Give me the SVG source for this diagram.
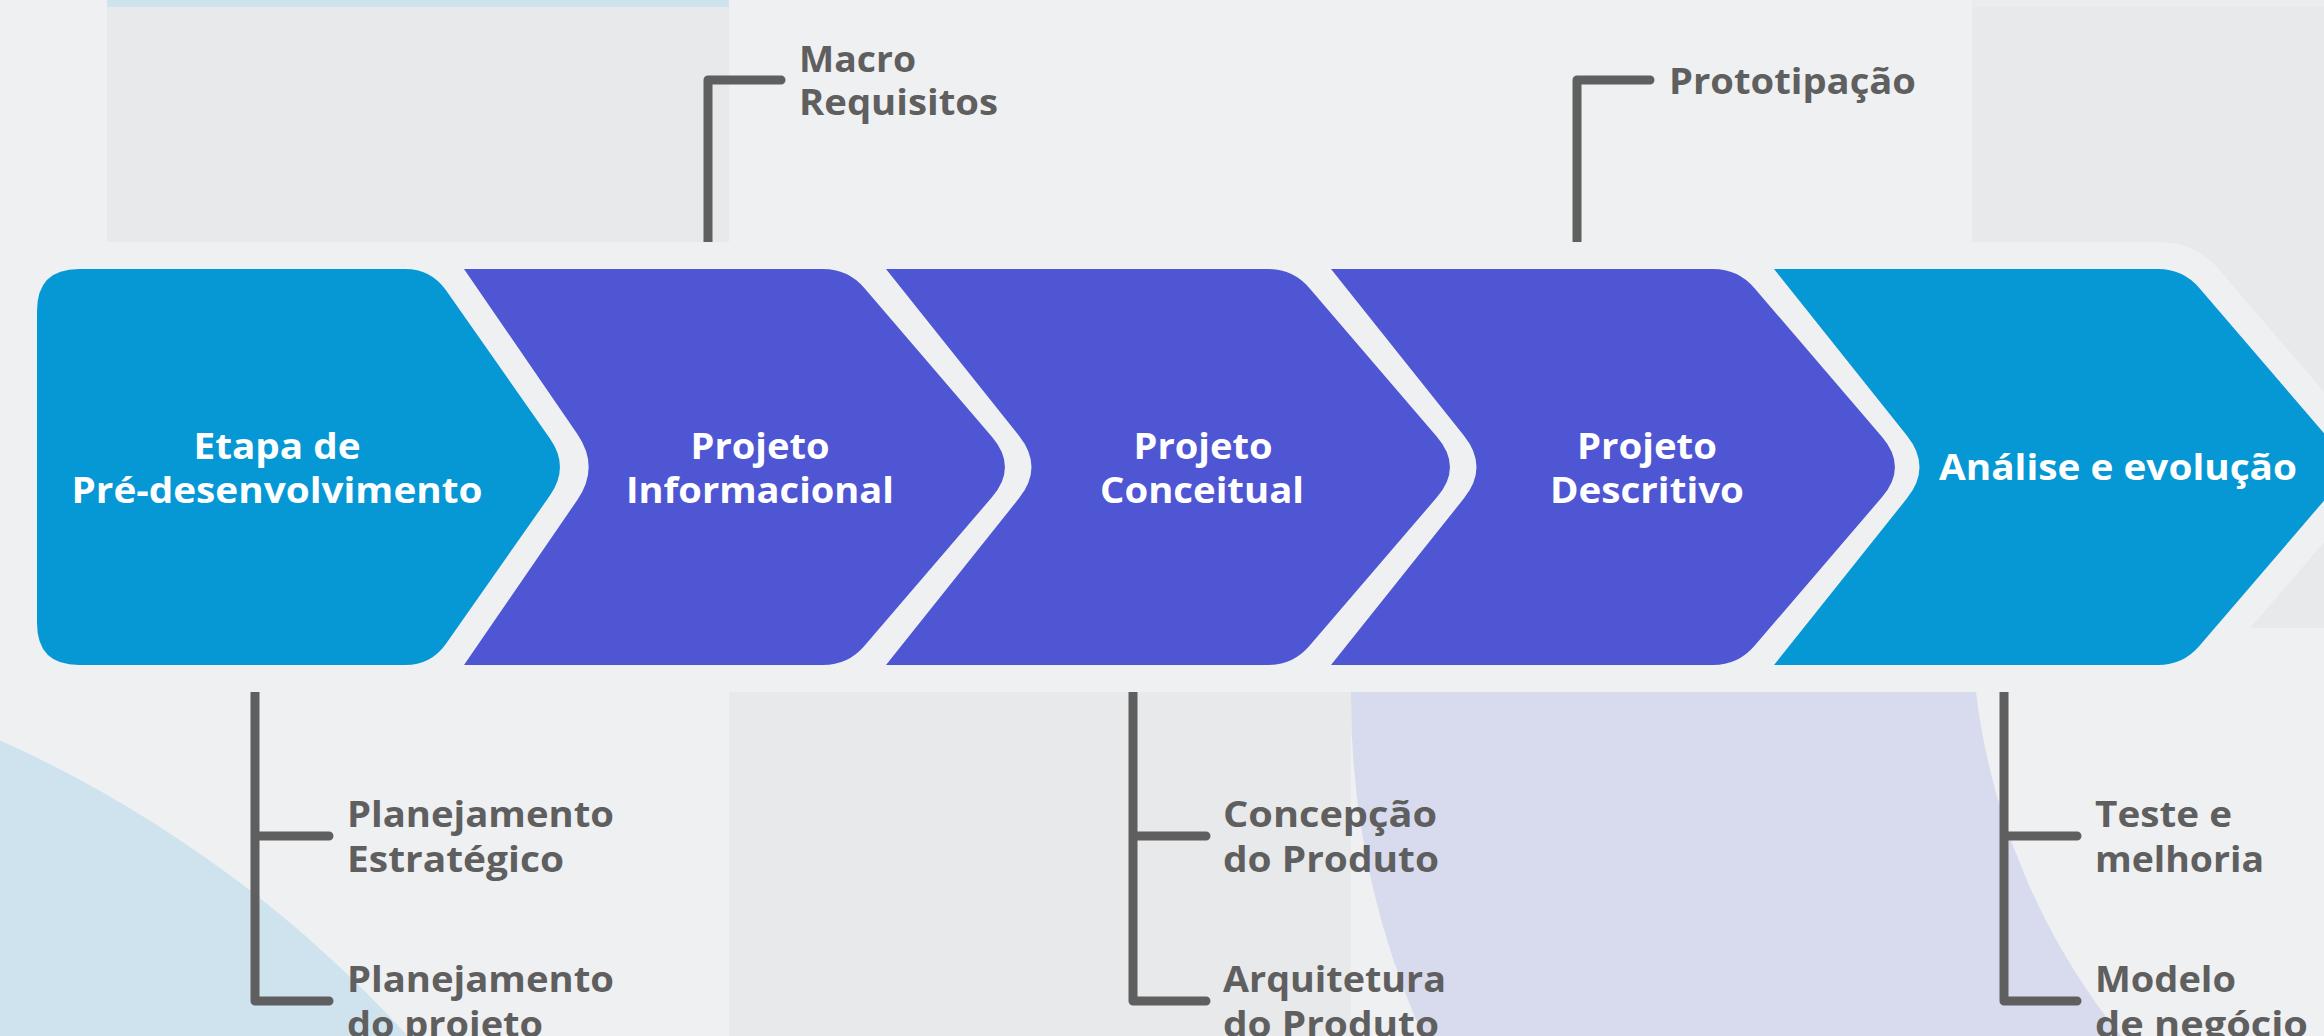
<svg xmlns="http://www.w3.org/2000/svg" xmlns:xlink="http://www.w3.org/1999/xlink" width="2324" height="1036" viewBox="0 0 2324 1036">
  <style>
    .bg{fill:#EFF0F2}
    .panel{fill:#E8E9EB}
    .band{fill:#EFF0F2;stroke:#EFF0F2;stroke-width:54;stroke-linejoin:round}
    .cyan{fill:#0698D5}
    .violet{fill:#4F56D3}
    .title{font-family:"Open Sans","Liberation Sans",sans-serif;font-weight:700;font-size:36px;fill:#FFFFFF;text-anchor:middle}
    .label{font-family:"Open Sans","Liberation Sans",sans-serif;font-weight:700;font-size:35px;fill:#5F5F5F}
    .conn{fill:none;stroke:#5F5F5F;stroke-width:9;stroke-linecap:round;stroke-linejoin:round}
  </style>
  <defs>
    <!-- stage shapes: first one has a flat rounded back, the rest a notch -->
    <path id="s1" d="M37,311 Q37,269 79,269 L405,269 Q431,269 446,290.3 L549.9,438.4 Q570,467 549.9,495.6 L446,643.7 Q431,665 405,665 L79,665 Q37,665 37,623 Z"/>
    <path id="s2" d="M464,269 L823,269 Q848,269 864.3,288 L991.9,436.7 Q1018,467 991.9,497.3 L864.3,646 Q848,665 823,665 L464,665 L577.3,500 Q600,467 577.3,434 Z"/>
    <path id="s3" d="M886,269 L1268,269 Q1293,269 1309.3,288 L1436.9,436.7 Q1463,467 1436.9,497.3 L1309.3,646 Q1293,665 1268,665 L886,665 L1019,498.3 Q1044,467 1019,435.7 Z"/>
    <path id="s4" d="M1331,269 L1713,269 Q1738,269 1754.3,288 L1881.9,436.7 Q1908,467 1881.9,497.3 L1754.3,646 Q1738,665 1713,665 L1331,665 L1464,498.3 Q1489,467 1464,435.7 Z"/>
    <path id="s5" d="M1774,269 L2158,269 Q2183,269 2199.3,288 L2326.9,436.7 Q2353,467 2326.9,497.3 L2199.3,646 Q2183,665 2158,665 L1774,665 L1907,498.3 Q1932,467 1907,435.7 Z"/>
  </defs>

  <!-- backdrop -->
  <g id="backdrop">
    <rect class="bg" x="0" y="0" width="2324" height="1036"/>
    <rect x="107" y="0" width="622" height="7" fill="#CDE3EE"/>
    <rect class="panel" x="107" y="7" width="622" height="235"/>
    <rect x="1972" y="0" width="352" height="7" fill="#EBECEE"/>
    <rect class="panel" x="1972" y="7" width="352" height="621"/>
    <rect class="panel" x="729" y="692" width="622" height="344"/>
    <path d="M1351,692 L1976,692 A677,677 0 0 0 2121,1036 L1423,1036 A834,834 0 0 1 1351,692 Z" fill="#D8DBEE"/>
    <circle cx="-506" cy="1867" r="1235" fill="#CFE3EE"/>
  </g>

  <!-- connectors (ends tucked under the light band) -->
  <g id="connectors">
    <path class="conn" d="M708,250 V80 H781"/>
    <path class="conn" d="M1577,250 V80 H1650"/>
    <path class="conn" d="M255,684 V1001 H329 M255,836 H329"/>
    <path class="conn" d="M1133,684 V1001 H1206 M1133,836 H1206"/>
    <path class="conn" d="M2004,684 V1001 H2077 M2004,836 H2077"/>
  </g>

  <!-- light outline band behind the stages -->
  <g id="band">
    <use xlink:href="#s1" class="band"/>
    <use xlink:href="#s2" class="band"/>
    <use xlink:href="#s3" class="band"/>
    <use xlink:href="#s4" class="band"/>
    <use xlink:href="#s5" class="band"/>
  </g>

  <g id="stage-pre">
    <use xlink:href="#s1" class="cyan"/>
    <text class="title" x="277" y="459" textLength="167" lengthAdjust="spacingAndGlyphs">Etapa de</text>
    <text class="title" x="277" y="503" textLength="411" lengthAdjust="spacingAndGlyphs">Pré-desenvolvimento</text>
  </g>
  <g id="stage-informacional">
    <use xlink:href="#s2" class="violet"/>
    <text class="title" x="760" y="459" textLength="139" lengthAdjust="spacingAndGlyphs">Projeto</text>
    <text class="title" x="760" y="503" textLength="268" lengthAdjust="spacingAndGlyphs">Informacional</text>
  </g>
  <g id="stage-conceitual">
    <use xlink:href="#s3" class="violet"/>
    <text class="title" x="1203" y="459" textLength="139" lengthAdjust="spacingAndGlyphs">Projeto</text>
    <text class="title" x="1202" y="503" textLength="204" lengthAdjust="spacingAndGlyphs">Conceitual</text>
  </g>
  <g id="stage-descritivo">
    <use xlink:href="#s4" class="violet"/>
    <text class="title" x="1647" y="459" textLength="140" lengthAdjust="spacingAndGlyphs">Projeto</text>
    <text class="title" x="1647" y="503" textLength="194" lengthAdjust="spacingAndGlyphs">Descritivo</text>
  </g>
  <g id="stage-analise">
    <use xlink:href="#s5" class="cyan"/>
    <text class="title" x="2118" y="480" textLength="358" lengthAdjust="spacingAndGlyphs">Análise e evolução</text>
  </g>

  <g id="label-macro">
    <text class="label" x="799" y="72" textLength="117" lengthAdjust="spacingAndGlyphs">Macro</text>
    <text class="label" x="799" y="115" textLength="199" lengthAdjust="spacingAndGlyphs">Requisitos</text>
  </g>
  <g id="label-prototipacao">
    <text class="label" x="1669" y="94" textLength="247" lengthAdjust="spacingAndGlyphs">Prototipação</text>
  </g>
  <g id="label-plan-estrategico">
    <text class="label" x="347" y="827" textLength="267" lengthAdjust="spacingAndGlyphs">Planejamento</text>
    <text class="label" x="347" y="872" textLength="217" lengthAdjust="spacingAndGlyphs">Estratégico</text>
  </g>
  <g id="label-plan-projeto">
    <text class="label" x="347" y="992" textLength="267" lengthAdjust="spacingAndGlyphs">Planejamento</text>
    <text class="label" x="347" y="1037" textLength="196" lengthAdjust="spacingAndGlyphs">do projeto</text>
  </g>
  <g id="label-concepcao">
    <text class="label" x="1223" y="827" textLength="214" lengthAdjust="spacingAndGlyphs">Concepção</text>
    <text class="label" x="1223" y="872" textLength="216" lengthAdjust="spacingAndGlyphs">do Produto</text>
  </g>
  <g id="label-arquitetura">
    <text class="label" x="1223" y="992" textLength="223" lengthAdjust="spacingAndGlyphs">Arquitetura</text>
    <text class="label" x="1223" y="1037" textLength="216" lengthAdjust="spacingAndGlyphs">do Produto</text>
  </g>
  <g id="label-teste">
    <text class="label" x="2095" y="827" textLength="137" lengthAdjust="spacingAndGlyphs">Teste e</text>
    <text class="label" x="2095" y="872" textLength="169" lengthAdjust="spacingAndGlyphs">melhoria</text>
  </g>
  <g id="label-modelo">
    <text class="label" x="2095" y="992" textLength="141" lengthAdjust="spacingAndGlyphs">Modelo</text>
    <text class="label" x="2095" y="1037" textLength="213" lengthAdjust="spacingAndGlyphs">de negócio</text>
  </g>
</svg>
